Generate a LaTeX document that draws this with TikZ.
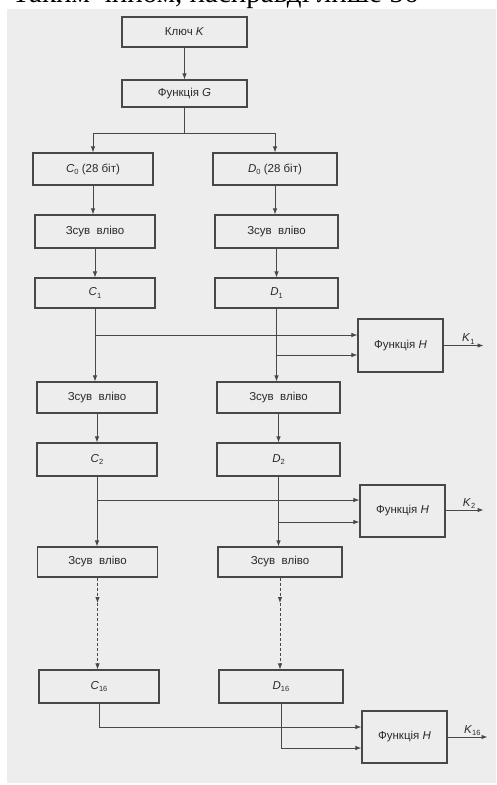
\documentclass[tikz,border=0pt]{standalone}
\usepackage{fontspec}
\setmainfont{Liberation Serif}
\newfontfamily\diagfont{Liberation Sans}
\usetikzlibrary{arrows.meta}
\definecolor{paper}{HTML}{EDEDED}
\definecolor{linec}{HTML}{484848}
\definecolor{txtc}{HTML}{2A2A2A}
\newcommand{\sbs}[2]{\textit{#1}\raisebox{-0.35ex}{\fontsize{7.5}{8}\selectfont #2}}
\tikzset{
  blk/.style={draw=linec, line width=1.1pt, inner sep=0pt, text=txtc,
    font=\diagfont\fontsize{11.5}{13}\selectfont},
  colbox/.style={blk, minimum width=120pt, minimum height=31pt},
  hbox/.style={blk, minimum width=85pt, minimum height=52pt},
  conn/.style={draw=linec, line width=0.9pt},
  arr/.style={conn, -{Latex[length=6pt,width=4.5pt]}},
  klabel/.style={text=txtc, font=\diagfont\fontsize{11.5}{13}\selectfont, inner sep=1pt}
}
\begin{document}
\begin{tikzpicture}[x=1pt,y=-1pt]
\useasboundingbox (0,0) rectangle (496,785);
% page of the scan and the tail of the preceding text line
\fill[paper] (7,9) rectangle (496,783);
\node[anchor=base west, inner sep=0pt, font=\fontsize{29}{32}\selectfont] (prev) at (12,2.5) {Таким чином, насправді лише 56};

% key and function G
\node[blk, minimum width=125pt, minimum height=30pt] (key) at (184.5,32) {Ключ \textit{K}};
\node[blk, minimum width=125pt, minimum height=27pt] (G) at (184.5,93.5) {Функція \textit{G}};

% C and D halves
\node[colbox, minimum height=32pt] (C0) at (93,169) {\sbs{C}{0} (28 біт)};
\node[colbox, minimum width=124pt, minimum height=32pt] (D0) at (275,169) {\sbs{D}{0} (28 біт)};

\node[colbox, minimum height=33pt] (S1c) at (95,231.5) {Зсув\ \ вліво};
\node[colbox, minimum width=123pt, minimum height=33pt] (S1d) at (276.5,231.5) {Зсув\ \ вліво};
\node[colbox, minimum height=30pt] (C1) at (95,293) {\sbs{C}{1}};
\node[colbox, minimum width=123pt, minimum height=30pt] (D1) at (276.5,293) {\sbs{D}{1}};

\node[colbox] (S2c) at (97,397.5) {Зсув\ \ вліво};
\node[colbox, minimum width=123pt] (S2d) at (278.5,397.5) {Зсув\ \ вліво};
\node[colbox, minimum height=33pt] (C2) at (97,459.5) {\sbs{C}{2}};
\node[colbox, minimum width=123pt, minimum height=33pt] (D2) at (278.5,459.5) {\sbs{D}{2}};

\node[colbox, minimum height=30pt] (S3c) at (97.5,562) {Зсув\ \ вліво};
\node[colbox, minimum width=124pt, minimum height=30pt] (S3d) at (280,562) {Зсув\ \ вліво};
\node[colbox, minimum height=33pt] (C16) at (99,686.5) {\sbs{C}{16}};
\node[colbox, minimum width=124pt, minimum height=33pt] (D16) at (281,686.5) {\sbs{D}{16}};

% function H blocks
\node[hbox, minimum height=53pt] (H1) at (400.5,345.5) {Функція \textit{H}};
\node[hbox] (H2) at (402.5,511) {Функція \textit{H}};
\node[hbox] (H3) at (404.5,737) {Функція \textit{H}};

% levels of the branch lines
\coordinate (split) at (184.5,133);
\coordinate (y1c) at (0,335);
\coordinate (y1d) at (0,355);
\coordinate (y2c) at (0,500);
\coordinate (y2d) at (0,522);
\coordinate (y2o) at (0,510);
\coordinate (y3c) at (0,727);
\coordinate (y3d) at (0,748);
\coordinate (ydash) at (0,603);

% top part
\draw[arr] (key.south) -- (key.south |- G.north);
\draw[conn] (G.south) -- (split);
\draw[arr] (split) -| (C0.north);
\draw[arr] (split) -| (D0.north);

% first round
\draw[arr] (C0.south) -- (C0.south |- S1c.north);
\draw[arr] (D0.south) -- (D0.south |- S1d.north);
\draw[arr] (S1c.south) -- (S1c.south |- C1.north);
\draw[arr] (S1d.south) -- (S1d.south |- D1.north);
\draw[arr] (C1.south) -- (C1.south |- S2c.north);
\draw[arr] (D1.south) -- (D1.south |- S2d.north);
\draw[arr] (C1.south |- y1c) -- (H1.west |- y1c);
\draw[arr] (D1.south |- y1d) -- (H1.west |- y1d);
\draw[arr] (H1.east) -- ++(40,0) coordinate (k1)
  node[klabel, pos=0.62, above] {\sbs{K}{1}};

% second round
\draw[arr] (S2c.south) -- (S2c.south |- C2.north);
\draw[arr] (S2d.south) -- (S2d.south |- D2.north);
\draw[arr] (C2.south) -- (C2.south |- S3c.north);
\draw[arr] (D2.south) -- (D2.south |- S3d.north);
\draw[arr] (C2.south |- y2c) -- (H2.west |- y2c);
\draw[arr] (D2.south |- y2d) -- (H2.west |- y2d);
\draw[arr] (H2.east |- y2o) -- ++(38,0) coordinate (k2)
  node[klabel, pos=0.62, above] {\sbs{K}{2}};

% remaining rounds, shown dashed
\draw[arr, densely dashed] (S3c.south) -- (S3c.south |- ydash);
\draw[arr, densely dashed] (S3c.south |- ydash) -- (S3c.south |- C16.north);
\draw[arr, densely dashed] (S3d.south) -- (S3d.south |- ydash);
\draw[arr, densely dashed] (S3d.south |- ydash) -- (S3d.south |- D16.north);

% last round
\draw[arr] (C16.south) |- (H3.west |- y3c);
\draw[arr] (D16.south) |- (H3.west |- y3d);
\draw[arr] (H3.east) -- ++(40,0) coordinate (k16)
  node[klabel, pos=0.62, above] {\sbs{K}{16}};
\end{tikzpicture}
\end{document}
